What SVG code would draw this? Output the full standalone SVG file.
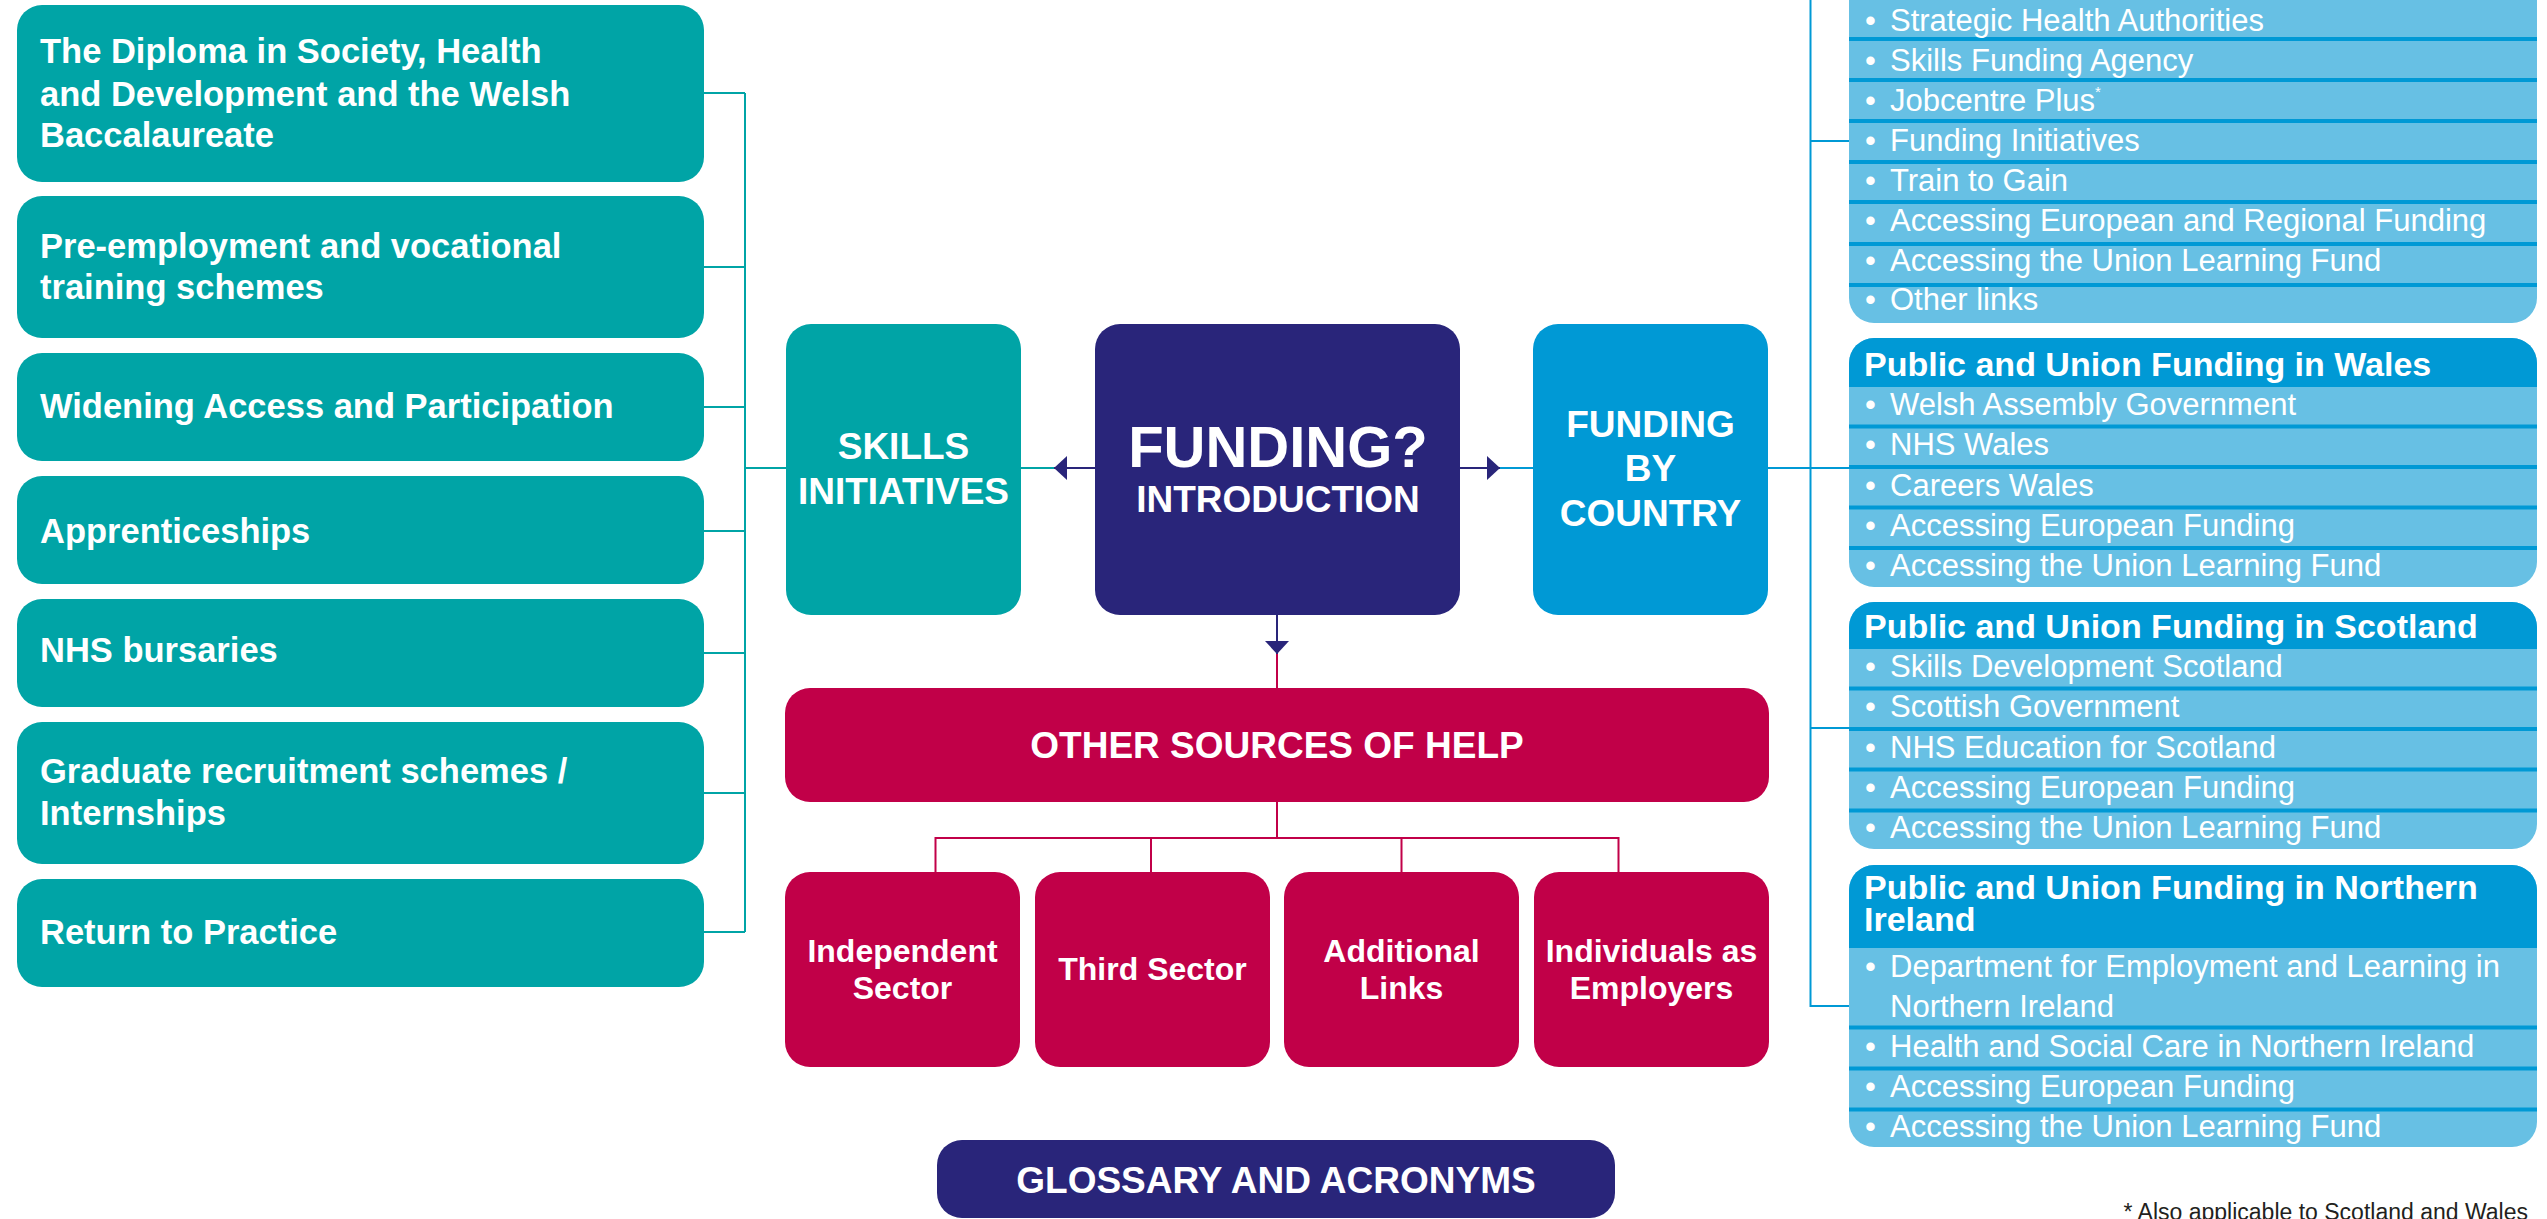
<svg xmlns="http://www.w3.org/2000/svg" width="2547" height="1219" viewBox="0 0 2547 1219">
<style>
  .teal{fill:#00A4A6}
  .navy{fill:#29257A}
  .red{fill:#C10048}
  .blue{fill:#0099D5}
  .lblue{fill:#67C0E4}
  text{font-family:"Liberation Sans",Arial,Helvetica,sans-serif;fill:#FFFFFF}
  .lt{font-size:34.5px;font-weight:bold}
  .ct{font-size:37px;font-weight:bold;text-anchor:middle}
  .big{font-size:58px;font-weight:bold;text-anchor:middle}
  .st{font-size:32px;font-weight:bold;text-anchor:middle}
  .hd{font-size:34px;font-weight:bold}
  .it{font-size:31px}
  .fn{font-size:23px;fill:#231F20;text-anchor:end}
  .cteal{stroke:#00A4A6;stroke-width:2;fill:none}
  .cnavy{stroke:#29257A;stroke-width:2;fill:none}
  .cred{stroke:#C10048;stroke-width:2;fill:none}
  .cblue{stroke:#0099D5;stroke-width:2;fill:none}
</style>
<defs>
  <marker id="ah" markerUnits="userSpaceOnUse" markerWidth="14" markerHeight="24" refX="13" refY="12" orient="auto">
    <path d="M0,0 L13,12 L0,24 Z" fill="#29257A"/>
  </marker>
</defs>

<g id="connectors">
  <!-- left (skills) -->
  <path class="cteal" d="M704,93 H745 M704,267 H745 M704,407 H745 M704,531 H745 M704,653 H745 M704,793 H745 M704,932 H745 M745,93 V932 M745,468 H786"/>
  <path class="cteal" d="M1021,468 H1054"/>
  <line class="cnavy" x1="1095" y1="468" x2="1054" y2="468" marker-end="url(#ah)"/>
  <line class="cnavy" x1="1460" y1="468" x2="1500" y2="468" marker-end="url(#ah)"/>
  <path class="cblue" d="M1500,468 H1534 M1768,468 H1849"/>
  <!-- right (countries) -->
  <path class="cblue" d="M1810.5,0 V1006 H1849 M1810.5,141 H1849 M1810.5,728 H1849"/>
  <!-- down -->
  <line class="cnavy" x1="1277" y1="615" x2="1277" y2="654" marker-end="url(#ah)"/>
  <path class="cred" d="M1277,654 V688 M1277,802 V838 M935.5,872 V838 H1618.5 V872 M1151,838 V872 M1401.5,838 V872"/>
</g>

<g id="n-diploma"><rect class="teal" x="17" y="5" width="687" height="177" rx="25"/>
  <text class="lt"><tspan x="40" y="63">The Diploma in Society, Health</tspan><tspan x="40" y="106">and Development and the Welsh</tspan><tspan x="40" y="147">Baccalaureate</tspan></text></g>
<g id="n-preemployment"><rect class="teal" x="17" y="196" width="687" height="142" rx="25"/>
  <text class="lt"><tspan x="40" y="258">Pre-employment and vocational</tspan><tspan x="40" y="299">training schemes</tspan></text></g>
<g id="n-widening"><rect class="teal" x="17" y="353" width="687" height="108" rx="25"/>
  <text class="lt" x="40" y="418">Widening Access and Participation</text></g>
<g id="n-apprenticeships"><rect class="teal" x="17" y="476" width="687" height="108" rx="25"/>
  <text class="lt" x="40" y="543">Apprenticeships</text></g>
<g id="n-nhs"><rect class="teal" x="17" y="599" width="687" height="108" rx="25"/>
  <text class="lt" x="40" y="662">NHS bursaries</text></g>
<g id="n-graduate"><rect class="teal" x="17" y="722" width="687" height="142" rx="25"/>
  <text class="lt"><tspan x="40" y="783">Graduate recruitment schemes /</tspan><tspan x="40" y="825">Internships</tspan></text></g>
<g id="n-return"><rect class="teal" x="17" y="879" width="687" height="108" rx="25"/>
  <text class="lt" x="40" y="944">Return to Practice</text></g>

<g id="n-skills"><rect class="teal" x="786" y="324" width="235" height="291" rx="25"/>
  <text class="ct"><tspan x="903.5" y="459">SKILLS</tspan><tspan x="903.5" y="504">INITIATIVES</tspan></text></g>
<g id="n-intro"><rect class="navy" x="1095" y="324" width="365" height="291" rx="25"/>
  <text class="big" x="1278" y="467">FUNDING?</text>
  <text class="ct" x="1278" y="511.5">INTRODUCTION</text></g>
<g id="n-country"><rect class="blue" x="1533" y="324" width="235" height="291" rx="25"/>
  <text class="ct"><tspan x="1650.5" y="437">FUNDING</tspan><tspan x="1650.5" y="481">BY</tspan><tspan x="1650.5" y="526">COUNTRY</tspan></text></g>

<g id="n-other"><rect class="red" x="785" y="688" width="984" height="114" rx="25"/>
  <text class="ct" x="1277" y="758">OTHER SOURCES OF HELP</text></g>
<g id="n-independent"><rect class="red" x="785" y="872" width="235" height="195" rx="25"/>
  <text class="st"><tspan x="902.5" y="962">Independent</tspan><tspan x="902.5" y="999">Sector</tspan></text></g>
<g id="n-third"><rect class="red" x="1035" y="872" width="235" height="195" rx="25"/>
  <text class="st" x="1152.5" y="980">Third Sector</text></g>
<g id="n-additional"><rect class="red" x="1284" y="872" width="235" height="195" rx="25"/>
  <text class="st"><tspan x="1401.5" y="962">Additional</tspan><tspan x="1401.5" y="999">Links</tspan></text></g>
<g id="n-individuals"><rect class="red" x="1534" y="872" width="235" height="195" rx="25"/>
  <text class="st"><tspan x="1651.5" y="962">Individuals as</tspan><tspan x="1651.5" y="999">Employers</tspan></text></g>

<g id="n-glossary"><rect class="navy" x="937" y="1140" width="678" height="78" rx="25"/>
  <text class="ct" x="1276" y="1192.5">GLOSSARY AND ACRONYMS</text></g>

<g id="n-england">
  <rect class="lblue" x="1849" y="-60" width="688" height="383" rx="25"/>
  <rect class="blue" x="1849" y="37" width="688" height="4"/>
  <rect class="blue" x="1849" y="78" width="688" height="4"/>
  <rect class="blue" x="1849" y="119" width="688" height="4"/>
  <rect class="blue" x="1849" y="160" width="688" height="4"/>
  <rect class="blue" x="1849" y="200" width="688" height="4"/>
  <rect class="blue" x="1849" y="242" width="688" height="4"/>
  <rect class="blue" x="1849" y="283" width="688" height="4"/>
  <text class="it"><tspan x="1865" y="31">•</tspan><tspan x="1890" y="31">Strategic Health Authorities</tspan></text>
  <text class="it"><tspan x="1865" y="71">•</tspan><tspan x="1890" y="71">Skills Funding Agency</tspan></text>
  <text class="it"><tspan x="1865" y="111">•</tspan><tspan x="1890" y="111">Jobcentre Plus</tspan><tspan font-size="15" dy="-14">*</tspan></text>
  <text class="it"><tspan x="1865" y="151">•</tspan><tspan x="1890" y="151">Funding Initiatives</tspan></text>
  <text class="it"><tspan x="1865" y="191">•</tspan><tspan x="1890" y="191">Train to Gain</tspan></text>
  <text class="it"><tspan x="1865" y="231">•</tspan><tspan x="1890" y="231">Accessing European and Regional Funding</tspan></text>
  <text class="it"><tspan x="1865" y="271">•</tspan><tspan x="1890" y="271">Accessing the Union Learning Fund</tspan></text>
  <text class="it"><tspan x="1865" y="310">•</tspan><tspan x="1890" y="310">Other links</tspan></text>
</g>

<g id="n-wales">
  <rect class="lblue" x="1849" y="338" width="688" height="249" rx="25"/>
  <path class="blue" d="M1849,387 V363 A25,25 0 0 1 1874,338 H2512 A25,25 0 0 1 2537,363 V387 Z"/>
  <rect class="blue" x="1849" y="424.5" width="688" height="4"/>
  <rect class="blue" x="1849" y="465" width="688" height="4"/>
  <rect class="blue" x="1849" y="505.5" width="688" height="4"/>
  <rect class="blue" x="1849" y="546" width="688" height="4"/>
  <text class="hd" x="1864" y="375.5">Public and Union Funding in Wales</text>
  <text class="it"><tspan x="1865" y="414.5">•</tspan><tspan x="1890" y="414.5">Welsh Assembly Government</tspan></text>
  <text class="it"><tspan x="1865" y="455">•</tspan><tspan x="1890" y="455">NHS Wales</tspan></text>
  <text class="it"><tspan x="1865" y="495.5">•</tspan><tspan x="1890" y="495.5">Careers Wales</tspan></text>
  <text class="it"><tspan x="1865" y="536">•</tspan><tspan x="1890" y="536">Accessing European Funding</tspan></text>
  <text class="it"><tspan x="1865" y="576">•</tspan><tspan x="1890" y="576">Accessing the Union Learning Fund</tspan></text>
</g>

<g id="n-scotland">
  <rect class="lblue" x="1849" y="602" width="688" height="247" rx="25"/>
  <path class="blue" d="M1849,649 V627 A25,25 0 0 1 1874,602 H2512 A25,25 0 0 1 2537,627 V649 Z"/>
  <rect class="blue" x="1849" y="686.5" width="688" height="4"/>
  <rect class="blue" x="1849" y="727" width="688" height="4"/>
  <rect class="blue" x="1849" y="767.5" width="688" height="4"/>
  <rect class="blue" x="1849" y="808.5" width="688" height="4"/>
  <text class="hd" x="1864" y="638">Public and Union Funding in Scotland</text>
  <text class="it"><tspan x="1865" y="676.5">•</tspan><tspan x="1890" y="676.5">Skills Development Scotland</tspan></text>
  <text class="it"><tspan x="1865" y="717">•</tspan><tspan x="1890" y="717">Scottish Government</tspan></text>
  <text class="it"><tspan x="1865" y="757.5">•</tspan><tspan x="1890" y="757.5">NHS Education for Scotland</tspan></text>
  <text class="it"><tspan x="1865" y="798">•</tspan><tspan x="1890" y="798">Accessing European Funding</tspan></text>
  <text class="it"><tspan x="1865" y="837.5">•</tspan><tspan x="1890" y="837.5">Accessing the Union Learning Fund</tspan></text>
</g>

<g id="n-northern-ireland">
  <rect class="lblue" x="1849" y="865" width="688" height="282" rx="25"/>
  <path class="blue" d="M1849,948 V890 A25,25 0 0 1 1874,865 H2512 A25,25 0 0 1 2537,890 V948 Z"/>
  <rect class="blue" x="1849" y="1025.5" width="688" height="4"/>
  <rect class="blue" x="1849" y="1066.5" width="688" height="4"/>
  <rect class="blue" x="1849" y="1107.5" width="688" height="4"/>
  <text class="hd"><tspan x="1864" y="899">Public and Union Funding in Northern</tspan><tspan x="1864" y="931">Ireland</tspan></text>
  <text class="it"><tspan x="1865" y="977">•</tspan><tspan x="1890" y="977">Department for Employment and Learning in</tspan><tspan x="1890" y="1016.5">Northern Ireland</tspan></text>
  <text class="it"><tspan x="1865" y="1056.5">•</tspan><tspan x="1890" y="1056.5">Health and Social Care in Northern Ireland</tspan></text>
  <text class="it"><tspan x="1865" y="1096.5">•</tspan><tspan x="1890" y="1096.5">Accessing European Funding</tspan></text>
  <text class="it"><tspan x="1865" y="1136.5">•</tspan><tspan x="1890" y="1136.5">Accessing the Union Learning Fund</tspan></text>
</g>

<text class="fn" x="2528" y="1220">* Also applicable to Scotland and Wales</text>
</svg>
